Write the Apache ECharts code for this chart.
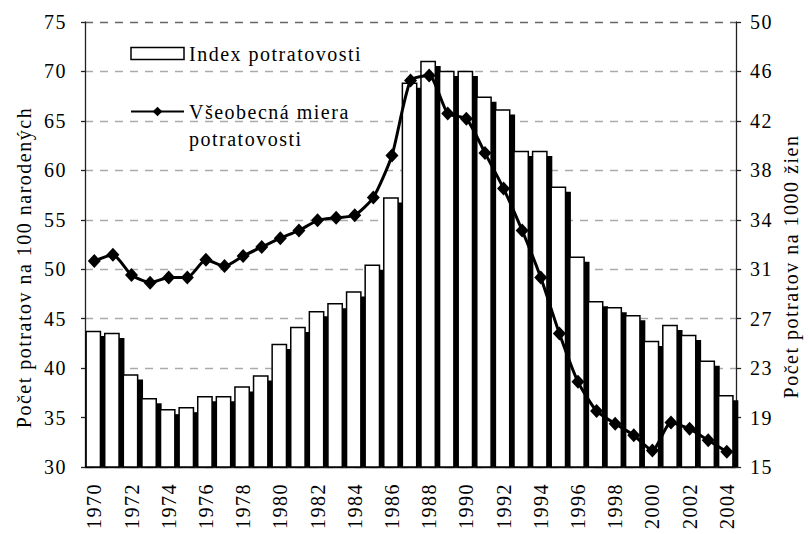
<!DOCTYPE html>
<html>
<head>
<meta charset="utf-8">
<script src="https://cdn.jsdelivr.net/npm/echarts@6/dist/echarts.min.js"></script>
<style>
  html, body { margin: 0; padding: 0; background: #fff; }
  #chart { width: 809px; height: 534px; }
  /* the serif type in this chart is set slightly spaced out */
  #chart svg text { letter-spacing: 1.5px; }
</style>
</head>
<body>
<div id="chart"></div>
<script>
// Years on the category axis
const years = ['1970','1971','1972','1973','1974','1975','1976','1977','1978','1979',
               '1980','1981','1982','1983','1984','1985','1986','1987','1988','1989',
               '1990','1991','1992','1993','1994','1995','1996','1997','1998','1999',
               '2000','2001','2002','2003','2004'];

// Index potratovosti (abortions per 100 births), left axis
const abortionIndex = [43.7, 43.5, 39.3, 36.9, 35.8, 36.0, 37.1, 37.1, 38.1, 39.2,
                       42.4, 44.1, 45.7, 46.5, 47.7, 50.4, 57.2, 68.8, 71.0, 70.0,
                       70.0, 67.4, 66.1, 61.9, 61.9, 58.3, 51.2, 46.7, 46.1, 45.3,
                       42.7, 44.3, 43.3, 40.7, 37.2];

// Všeobecná miera potratovosti (abortions per 1000 women), right axis
const abortionRate = [31.2, 31.7, 30.1, 29.5, 29.9, 29.9, 31.3, 30.8, 31.6, 32.3,
                      33.0, 33.6, 34.4, 34.6, 34.8, 36.2, 39.5, 45.4, 45.8, 42.8,
                      42.4, 39.7, 36.9, 33.6, 29.9, 25.5, 21.7, 19.4, 18.4, 17.5,
                      16.3, 18.5, 18.0, 17.1, 16.2];

const SERIES_INDEX = 'Index potratovosti';
const SERIES_RATE = 'Všeobecná miera\npotratovosti';

const LEFT_MIN = 30, LEFT_MAX = 75, LEFT_STEP = 5;
const RIGHT_MIN = 15, RIGHT_MAX = 50;

const FONT = "'Liberation Serif', 'Times New Roman', serif";

// White bar with a solid black drop shadow to its lower right
function renderShadowBar(params, api) {
  const i = api.value(0);
  const v = api.value(1);
  const top = api.coord([i, v]);
  const base = api.coord([i, LEFT_MIN]);
  const band = api.size([1, 0])[0];
  const w = band * 0.77;
  const x0 = top[0] - band * 0.44;
  const dx = band * 0.29;
  const dy = 4.5;
  return {
    type: 'group',
    children: [
      { type: 'rect',
        shape: { x: x0 + dx, y: top[1] + dy, width: w, height: Math.max(0, base[1] - top[1] - dy) },
        style: { fill: '#000' } },
      { type: 'rect',
        shape: { x: x0, y: top[1], width: w, height: base[1] - top[1] },
        style: { fill: '#fff', stroke: '#000', lineWidth: 1.5 } }
    ]
  };
}

const chart = echarts.init(document.getElementById('chart'), null, { renderer: 'svg' });

const gridColors = ['#aaa','#aaa','#aaa','#aaa','#aaa','#aaa','#aaa','#aaa','#aaa','#666'];

chart.setOption({
  animation: false,
  backgroundColor: '#fff',
  textStyle: { fontFamily: FONT, color: '#000' },
  grid: { left: 85, right: 66, top: 22, bottom: 67, containLabel: false },
  legend: {
    orient: 'vertical',
    left: 125,
    top: 35,
    itemGap: 4,
    itemWidth: 53,
    itemHeight: 12,
    selectedMode: false,
    textStyle: { fontFamily: FONT, fontSize: 20, color: '#000', lineHeight: 27 },
    // the two-line label sits with its first line beside the symbol
    formatter: name => (name === SERIES_RATE ? '\n' + name : name),
    data: [
      { name: SERIES_INDEX, icon: 'rect',
        itemStyle: { color: '#fff', borderColor: '#000', borderWidth: 1.5 } },
      { name: SERIES_RATE }
    ]
  },
  xAxis: {
    type: 'category',
    data: years,
    boundaryGap: true,
    axisLine: { lineStyle: { color: '#222', width: 1.3 } },
    axisTick: { interval: 0, length: 6, lineStyle: { color: '#222', width: 1.3 } },
    axisLabel: { interval: 1, rotate: 90, margin: 16, fontSize: 20, fontFamily: FONT, color: '#000' },
    splitLine: { show: false }
  },
  yAxis: [
    {
      type: 'value',
      position: 'left',
      min: LEFT_MIN, max: LEFT_MAX, interval: LEFT_STEP,
      name: 'Počet potratov na 100 narodených',
      nameLocation: 'middle',
      nameGap: 51,
      // extra room at the end of the title lowers it along the axis
      nameTextStyle: { fontSize: 20, fontFamily: FONT, color: '#000', padding: [0, 46, 0, 0] },
      axisLine: { show: true, lineStyle: { color: '#222', width: 1.3 } },
      axisTick: { show: true, length: 4, lineStyle: { color: '#222', width: 1.3 } },
      axisLabel: { margin: 18, fontSize: 20, fontFamily: FONT, color: '#000' },
      splitLine: { show: true, lineStyle: { color: gridColors, type: [8, 7], width: 1.3 } }
    },
    {
      type: 'value',
      position: 'right',
      min: RIGHT_MIN, max: RIGHT_MAX,
      interval: (RIGHT_MAX - RIGHT_MIN) / 9,
      name: 'Počet potratov na 1000 žien',
      nameLocation: 'middle',
      nameGap: 40,
      nameTextStyle: { fontSize: 20, fontFamily: FONT, color: '#000', padding: [0, 44, 0, 0] },
      axisLine: { show: true, lineStyle: { color: '#222', width: 1.3 } },
      axisTick: { show: true, length: 5, lineStyle: { color: '#222', width: 1.3 } },
      axisLabel: { margin: 14, fontSize: 20, fontFamily: FONT, color: '#000',
                   formatter: v => String(Math.round(v)) },
      splitLine: { show: false }
    }
  ],
  series: [
    {
      name: SERIES_INDEX,
      type: 'custom',
      renderItem: renderShadowBar,
      xAxisIndex: 0,
      yAxisIndex: 0,
      encode: { x: 0, y: 1 },
      itemStyle: { color: '#fff', borderColor: '#000' },
      z: 1,
      data: abortionIndex.map((v, i) => [i, v])
    },
    {
      name: SERIES_RATE,
      type: 'line',
      yAxisIndex: 1,
      data: abortionRate,
      smooth: 0.2,
      showAllSymbol: true,
      symbol: 'diamond',
      symbolSize: [13, 14],
      lineStyle: { color: '#000', width: 3 },
      itemStyle: { color: '#000' },
      z: 5
    }
  ]
});
</script>
</body>
</html>
